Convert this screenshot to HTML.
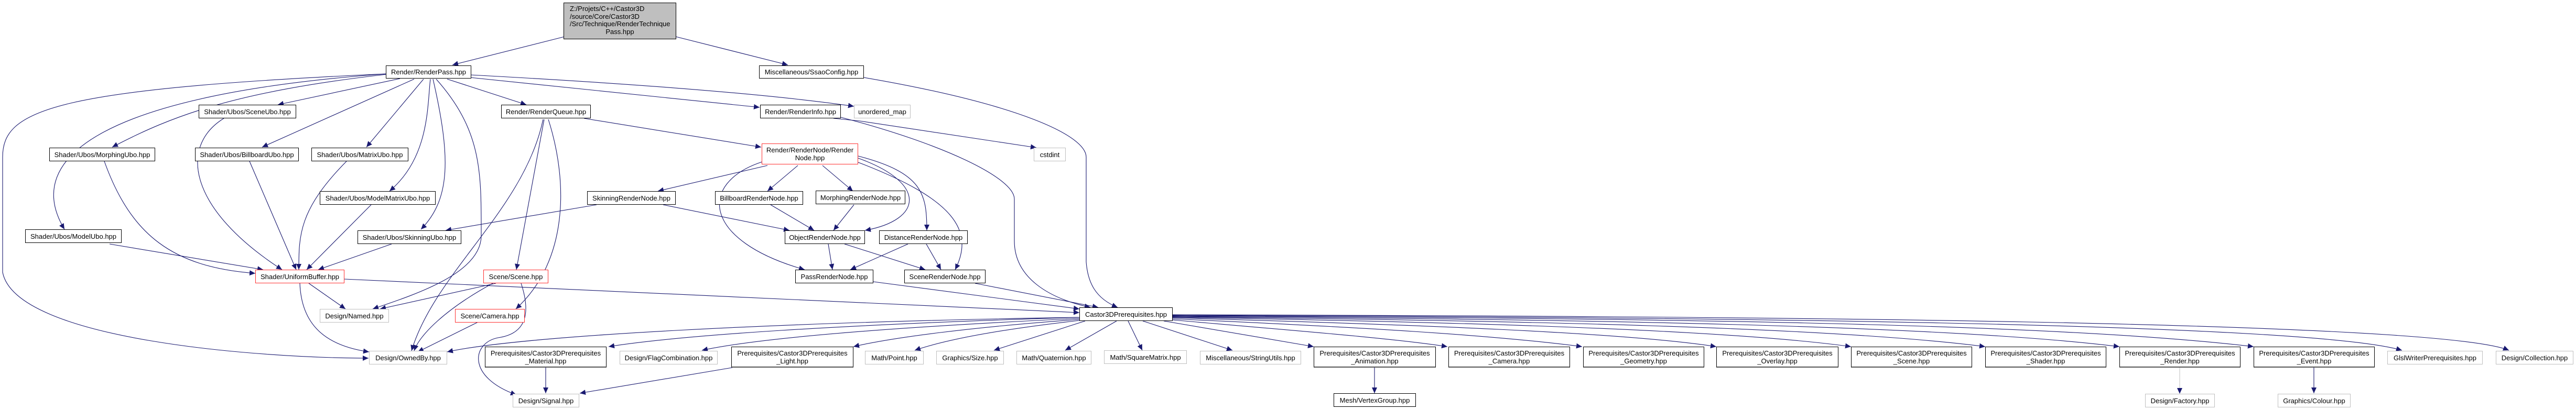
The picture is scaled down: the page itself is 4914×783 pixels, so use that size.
<!DOCTYPE html>
<html><head><meta charset="utf-8"><style>
html,body{margin:0;padding:0;background:#fff;}
body{width:4914px;height:783px;position:relative;overflow:hidden;font-family:"Liberation Sans",Arial,sans-serif;font-size:13px;color:#000;}
.n{position:absolute;box-sizing:border-box;background:#fff;border:1px solid #000;display:flex;align-items:center;justify-content:center;text-align:center;line-height:15px;white-space:nowrap;}
.n.g{border-color:#bfbfbf;}
.n.r{border-color:#ff3030;}
.n.b{border-bottom:2px solid #555;}
svg{position:absolute;left:0;top:0;}
</style></head><body>
<svg width="4914" height="783" viewBox="0 0 4914 783">
<defs><marker id="a" markerUnits="userSpaceOnUse" markerWidth="12" markerHeight="10" refX="11" refY="5" orient="auto"><path d="M0,0 L11,5 L0,10 Z" fill="#191970"/></marker></defs>
<g fill="none" stroke="#191970" stroke-width="1.1" marker-end="url(#a)">
<path d="M1077,70 L863,124"/>
<path d="M1289,70 L1503,124"/>
<path d="M763,150 L530,200"/>
<path d="M737,142 C450,175 330,220 214,281"/>
<path d="M737,141 C200,180 40,300 123,438"/>
<path d="M737,141 C100,170 5,210 5,300 L5,520 C30,650 500,684 703,684"/>
<path d="M790,151 L500,281"/>
<path d="M808,151 L699,281"/>
<path d="M821,151 C815,200 820,300 743,365"/>
<path d="M826,151 C860,300 860,380 803,438"/>
<path d="M832,151 C920,250 918,330 918,450 C918,520 800,560 711,590"/>
<path d="M853,151 L1004,200"/>
<path d="M897,148 L1449,205"/>
<path d="M897,143 Q1400,170 1629,203"/>
<path d="M1648,148 C1950,200 2072,260 2072,300 L2072,500 C2075,540 2090,570 2132,587"/>
<path d="M1590,226 L1640,231 L1977,282"/>
<path d="M1604,224 C1800,275 1935,340 1935,380 L1935,460 C1935,530 2000,570 2080,587"/>
<path d="M1114,226 L1452,281"/>
<path d="M1036,228 C1000,400 830,520 785,670"/>
<path d="M1038,228 L985,515"/>
<path d="M1046,228 C1085,350 1083,500 984,590"/>
<path d="M427,226 C340,280 360,400 538,515"/>
<path d="M199,308 C250,450 330,510 487,522"/>
<path d="M476,308 L565,515"/>
<path d="M661,308 C570,400 570,450 570,515"/>
<path d="M708,391 L585,515"/>
<path d="M209,466 L502,515"/>
<path d="M747,466 L607,515"/>
<path d="M589,541 L659,590"/>
<path d="M572,541 C575,620 620,660 704,672"/>
<path d="M657,533 L2059,597"/>
<path d="M946,541 L725,590"/>
<path d="M940,541 C850,590 800,640 790,670"/>
<path d="M994,541 C1020,620 985,640 950,645 C900,655 890,720 985,754"/>
<path d="M912,615 L797,672"/>
<path d="M1464,316 L1255,365"/>
<path d="M1522,316 L1464,365"/>
<path d="M1569,316 L1627,365"/>
<path d="M1454,309 C1330,350 1340,460 1535,515"/>
<path d="M1637,302 C1770,350 1760,420 1650,440"/>
<path d="M1637,298 C1760,330 1768,370 1768,440"/>
<path d="M1637,310 C1820,380 1860,440 1822,515"/>
<path d="M1138,391 L850,440"/>
<path d="M1265,391 L1506,440"/>
<path d="M1470,391 L1553,440"/>
<path d="M1629,391 L1590,440"/>
<path d="M1580,466 L1588,515"/>
<path d="M1611,466 L1765,515"/>
<path d="M1732,466 L1622,515"/>
<path d="M1767,466 L1795,515"/>
<path d="M1666,538 L2059,590"/>
<path d="M1860,541 L2095,587"/>
<path d="M2059,606 C1500,615 1000,640 853,672"/>
<path d="M2059,606 C1600,620 1300,640 1161,662"/>
<path d="M2059,608 C1700,625 1450,645 1339,669"/>
<path d="M2059,610 C1850,625 1700,645 1628,662"/>
<path d="M2059,612 C1900,630 1800,650 1745,669"/>
<path d="M2070,613 L1896,669"/>
<path d="M2130,613 L2032,669"/>
<path d="M2152,613 L2179,669"/>
<path d="M2180,613 L2351,669"/>
<path d="M2220,613 L2506,662"/>
<path d="M2237,611 C2450,630 2650,645 2761,662"/>
<path d="M2237,609 C2600,625 2850,640 3018,662"/>
<path d="M2237,607 C2700,620 3100,635 3274,662"/>
<path d="M2237,606 C2800,615 3300,630 3531,662"/>
<path d="M2237,605 C2900,612 3500,625 3787,662"/>
<path d="M2237,604 C3000,610 3700,620 4043,662"/>
<path d="M2237,603 C3100,608 3900,615 4299,662"/>
<path d="M2237,602 C3200,606 4400,615 4582,669"/>
<path d="M2237,601 C3300,604 4650,612 4786,669"/>
<path d="M1041,702 L1041,751"/>
<path d="M1397,702 L1106,751"/>
<path d="M2622,702 L2622,751"/>
<path d="M4414,702 L4414,751"/>
</g>
<path d="M4158,702 L4158,743" stroke="#bfbfbf" stroke-width="1"/>
<path d="M4153,741 L4158,752 L4163,741 Z" fill="#191970"/>
</svg>
<div class="n" style="left:1075px;top:5px;width:215px;height:70px;background:#bfbfbf;display:block;text-align:left;padding:4px 0 0 11px;line-height:14.5px;">Z:/Projets/C++/Castor3D<br>/source/Core/Castor3D<br>/Src/Technique/RenderTechnique<br><span style="display:block;text-align:center;margin-left:-11px;">Pass.hpp</span></div>
<div class="n" style="left:736px;top:125px;width:163px;height:25px;">Render/RenderPass.hpp</div>
<div class="n" style="left:1448px;top:125px;width:200px;height:25px;">Miscellaneous/SsaoConfig.hpp</div>
<div class="n" style="left:379px;top:200px;width:186px;height:26px;">Shader/Ubos/SceneUbo.hpp</div>
<div class="n" style="left:956px;top:200px;width:171px;height:26px;">Render/RenderQueue.hpp</div>
<div class="n" style="left:1450px;top:200px;width:154px;height:26px;">Render/RenderInfo.hpp</div>
<div class="n g" style="left:1629px;top:200px;width:108px;height:26px;">unordered_map</div>
<div class="n g" style="left:1972px;top:282px;width:61px;height:26px;">cstdint</div>
<div class="n" style="left:94px;top:282px;width:202px;height:26px;">Shader/Ubos/MorphingUbo.hpp</div>
<div class="n" style="left:372px;top:282px;width:198px;height:26px;">Shader/Ubos/BillboardUbo.hpp</div>
<div class="n" style="left:594px;top:282px;width:185px;height:26px;">Shader/Ubos/MatrixUbo.hpp</div>
<div class="n r" style="left:1453px;top:274px;width:184px;height:40px;">Render/RenderNode/Render<br>Node.hpp</div>
<div class="n" style="left:610px;top:365px;width:221px;height:26px;">Shader/Ubos/ModelMatrixUbo.hpp</div>
<div class="n" style="left:1120px;top:365px;width:169px;height:26px;">SkinningRenderNode.hpp</div>
<div class="n" style="left:1364px;top:365px;width:168px;height:26px;">BillboardRenderNode.hpp</div>
<div class="n" style="left:1556px;top:364px;width:171px;height:26px;">MorphingRenderNode.hpp</div>
<div class="n" style="left:48px;top:438px;width:184px;height:26px;">Shader/Ubos/ModelUbo.hpp</div>
<div class="n" style="left:682px;top:440px;width:198px;height:26px;">Shader/Ubos/SkinningUbo.hpp</div>
<div class="n" style="left:1497px;top:440px;width:153px;height:26px;">ObjectRenderNode.hpp</div>
<div class="n" style="left:1677px;top:440px;width:169px;height:26px;">DistanceRenderNode.hpp</div>
<div class="n r" style="left:487px;top:515px;width:170px;height:26px;">Shader/UniformBuffer.hpp</div>
<div class="n r" style="left:922px;top:515px;width:124px;height:26px;">Scene/Scene.hpp</div>
<div class="n" style="left:1517px;top:515px;width:149px;height:26px;">PassRenderNode.hpp</div>
<div class="n" style="left:1725px;top:515px;width:155px;height:26px;">SceneRenderNode.hpp</div>
<div class="n g" style="left:610px;top:590px;width:132px;height:26px;">Design/Named.hpp</div>
<div class="n r" style="left:868px;top:590px;width:133px;height:26px;">Scene/Camera.hpp</div>
<div class="n" style="left:2059px;top:587px;width:178px;height:26px;">Castor3DPrerequisites.hpp</div>
<div class="n g" style="left:704px;top:670px;width:149px;height:26px;">Design/OwnedBy.hpp</div>
<div class="n b" style="left:925px;top:662px;width:232px;height:40px;">Prerequisites/Castor3DPrerequisites<br>_Material.hpp</div>
<div class="n g" style="left:1182px;top:670px;width:187px;height:26px;">Design/FlagCombination.hpp</div>
<div class="n b" style="left:1395px;top:662px;width:233px;height:40px;">Prerequisites/Castor3DPrerequisites<br>_Light.hpp</div>
<div class="n g" style="left:1650px;top:670px;width:112px;height:26px;">Math/Point.hpp</div>
<div class="n g" style="left:1786px;top:670px;width:129px;height:26px;">Graphics/Size.hpp</div>
<div class="n g" style="left:1939px;top:670px;width:143px;height:26px;">Math/Quaternion.hpp</div>
<div class="n g" style="left:2106px;top:669px;width:158px;height:26px;">Math/SquareMatrix.hpp</div>
<div class="n g" style="left:2289px;top:670px;width:193px;height:26px;">Miscellaneous/StringUtils.hpp</div>
<div class="n b" style="left:2506px;top:662px;width:233px;height:40px;">Prerequisites/Castor3DPrerequisites<br>_Animation.hpp</div>
<div class="n b" style="left:2763px;top:662px;width:232px;height:40px;">Prerequisites/Castor3DPrerequisites<br>_Camera.hpp</div>
<div class="n b" style="left:3020px;top:662px;width:231px;height:40px;">Prerequisites/Castor3DPrerequisites<br>_Geometry.hpp</div>
<div class="n b" style="left:3274px;top:662px;width:233px;height:40px;">Prerequisites/Castor3DPrerequisites<br>_Overlay.hpp</div>
<div class="n b" style="left:3531px;top:662px;width:231px;height:40px;">Prerequisites/Castor3DPrerequisites<br>_Scene.hpp</div>
<div class="n b" style="left:3787px;top:662px;width:231px;height:40px;">Prerequisites/Castor3DPrerequisites<br>_Shader.hpp</div>
<div class="n b" style="left:4043px;top:662px;width:231px;height:40px;">Prerequisites/Castor3DPrerequisites<br>_Render.hpp</div>
<div class="n b" style="left:4299px;top:662px;width:231px;height:40px;">Prerequisites/Castor3DPrerequisites<br>_Event.hpp</div>
<div class="n g" style="left:4554px;top:670px;width:182px;height:26px;">GlslWriterPrerequisites.hpp</div>
<div class="n g" style="left:4761px;top:670px;width:148px;height:26px;">Design/Collection.hpp</div>
<div class="n g" style="left:978px;top:752px;width:127px;height:26px;">Design/Signal.hpp</div>
<div class="n" style="left:2544px;top:751px;width:157px;height:26px;">Mesh/VertexGroup.hpp</div>
<div class="n g" style="left:4092px;top:752px;width:133px;height:26px;">Design/Factory.hpp</div>
<div class="n g" style="left:4345px;top:752px;width:139px;height:26px;">Graphics/Colour.hpp</div>
</body></html>
